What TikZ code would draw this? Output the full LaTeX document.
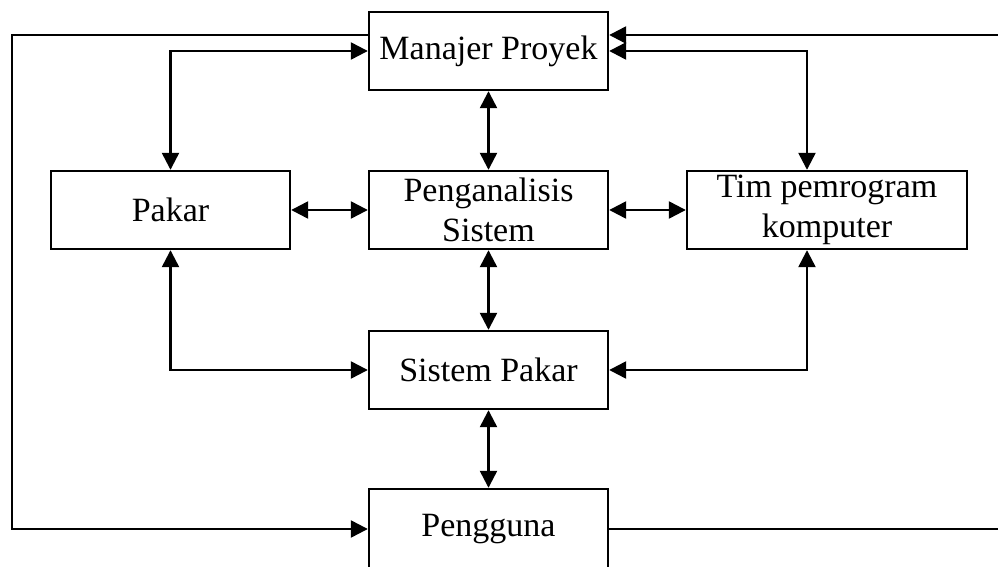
\documentclass[tikz,border=0pt]{standalone}
\usepackage{fontspec}
\setmainfont{Liberation Serif}
\usetikzlibrary{positioning,arrows.meta,calc}
\tikzset{
  spkotak/.style={draw=black, line width=1.2pt, align=center, inner sep=0pt,
                  minimum width=119.5pt, minimum height=39pt,
                  font=\fontsize{17}{20}\selectfont},
  sppanah/.style={-{Triangle[length=8.5pt,width=8.5pt]}, line width=1.2pt},
  sppanahdua/.style={{Triangle[length=8.5pt,width=8.5pt]}-{Triangle[length=8.5pt,width=8.5pt]}, line width=1.2pt},
}

\begin{document}
\begin{tikzpicture}[x=0.5pt, y=-0.5pt]
        \useasboundingbox (0,0) rectangle (998,567);
        % kotak
        \node[spkotak] (manajer) at (488.5,51) {Manajer Proyek};
        \node[spkotak, minimum width=119.5pt] (pakar) at (170.5,210) {Pakar};
        \node[spkotak] (analis) at (488.5,210) {Penganalisis\\Sistem};
        \node[spkotak, minimum width=140pt] (tim) at (827,210) {Tim pemrogram\\komputer};
        \node[spkotak] (sispakar) at (488.5,370) {Sistem Pakar};
        \node[spkotak, minimum height=40pt] (pengguna) at (488.5,529) {Pengguna};
        % titik bantu
        \coordinate (timatas) at ($(tim.north)+(-20,0)$);
        \coordinate (timbawah) at ($(tim.south)+(-20,0)$);
        \coordinate (manajerkiri) at ($(manajer.west)+(0,-16)$);
        \coordinate (manajerkanan) at ($(manajer.east)+(0,-16)$);
        \coordinate (kiri) at (12,35);
        \coordinate (kanan) at (1004,35);
        % panah tengah
        \draw[sppanahdua] (manajer) -- (analis);
        \draw[sppanahdua] (analis) -- (sispakar);
        \draw[sppanahdua] (sispakar) -- (pengguna);
        \draw[sppanahdua] (pakar) -- (analis);
        \draw[sppanahdua] (analis) -- (tim);
        % panah samping
        \draw[sppanahdua] (pakar.north) |- (manajer.west);
        \draw[sppanahdua] (timatas) |- (manajer.east);
        \draw[sppanahdua] (pakar.south) |- (sispakar.west);
        \draw[sppanahdua] (timbawah) |- (sispakar.east);
        % jalur luar
        \draw[sppanah] (manajerkiri) -- (kiri) |- (pengguna.west);
        \draw[sppanah] (pengguna.east) -| (kanan) -- (manajerkanan);
\end{tikzpicture}
\end{document}
